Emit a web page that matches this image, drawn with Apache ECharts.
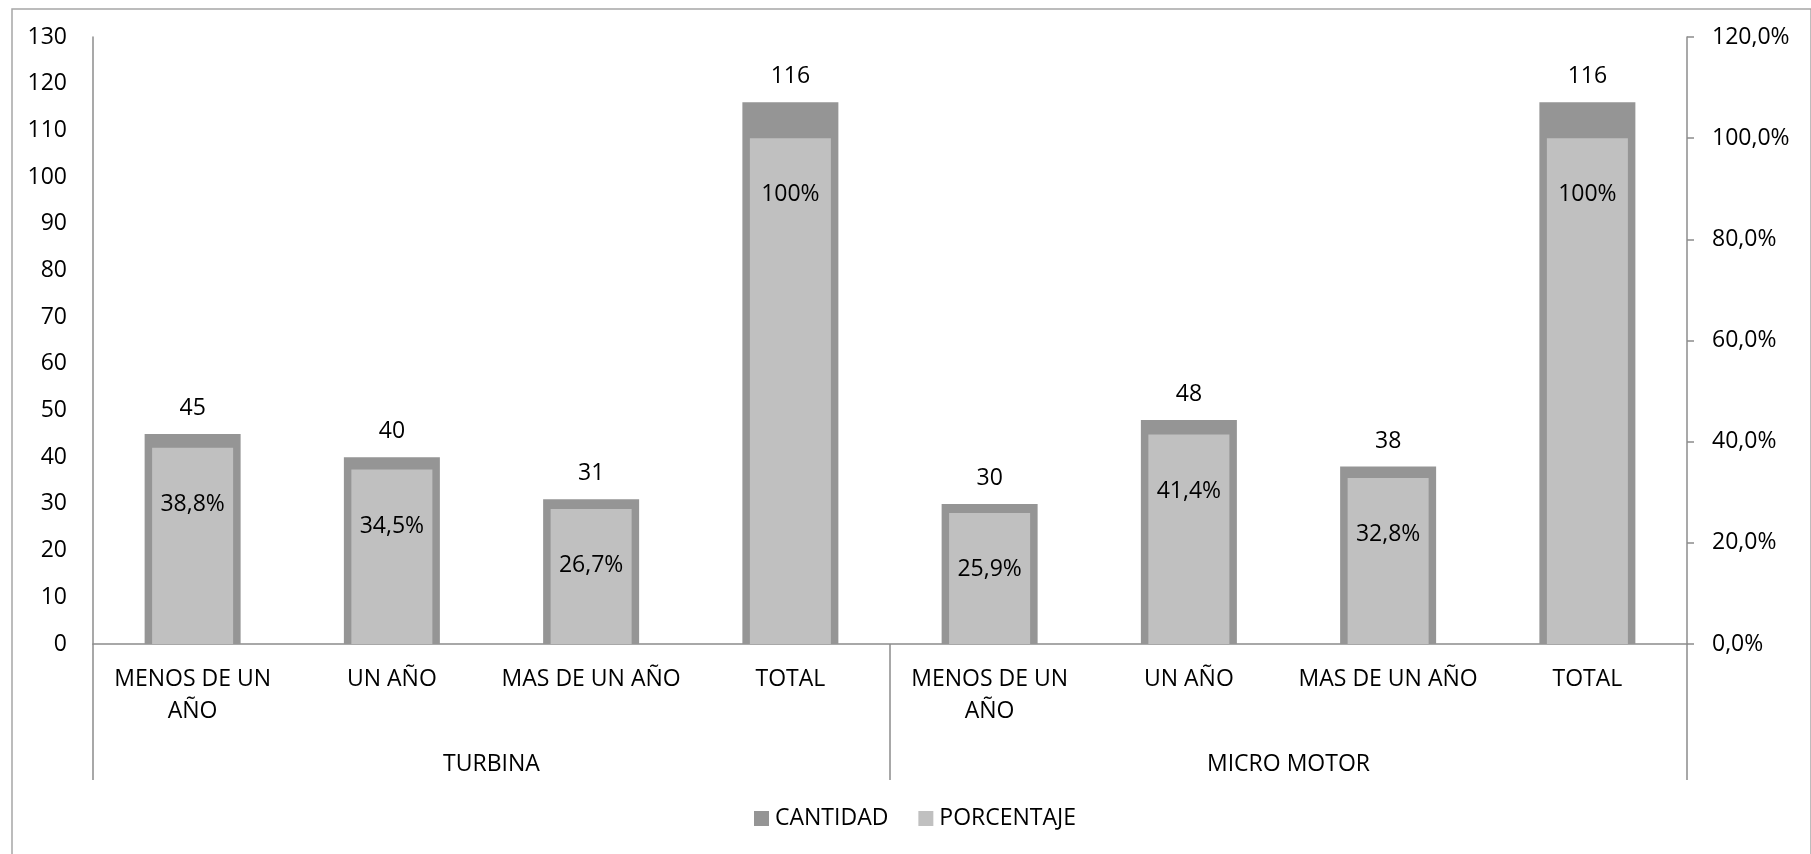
<!DOCTYPE html>
<html>
<head>
<meta charset="utf-8">
<script src="https://cdn.jsdelivr.net/npm/echarts@6/dist/echarts.min.js"></script>
<style>
html,body{margin:0;padding:0;background:#fff;}
#main{width:1811px;height:854px;}
</style>
</head>
<body>
<div id="main"></div>
<script>
const categories = ['MENOS DE UN\nAÑO', 'UN AÑO', 'MAS DE UN AÑO', 'TOTAL', 'MENOS DE UN\nAÑO', 'UN AÑO', 'MAS DE UN AÑO', 'TOTAL'];
const groups = ['TURBINA', 'MICRO MOTOR'];
const cantidad = [45, 40, 31, 116, 30, 48, 38, 116];
const porcentaje = [38.8, 34.5, 26.7, 100, 25.9, 41.4, 32.8, 100];
const seriesNames = ['CANTIDAD', 'PORCENTAJE'];

const FONT = 'Open Sans';
const FS = 23;
const AXIS = '#8c8c8c';

const chart = echarts.init(document.getElementById('main'), null, {renderer: 'canvas'});
chart.setOption({
  backgroundColor: '#fff',
  animation: false,
  textStyle: {fontFamily: FONT, color: '#000'},
  graphic: [{
    type: 'rect', left: 9.5, top: 6.5, silent: true,
    shape: {width: 1799, height: 860},
    style: {fill: 'none', stroke: '#a6a6a6', lineWidth: 1.5}
  }],
  grid: {left: 93, right: 124, top: 37, bottom: 210, containLabel: false},
  legend: {
    left: 749, top: 802,
    itemWidth: 15, itemHeight: 15, itemGap: 30,
    icon: 'rect',
    textStyle: {fontFamily: FONT, fontSize: FS, color: '#000', padding: [0, 0, 0, 1]},
    data: seriesNames
  },
  xAxis: [
    {
      type: 'category', data: categories, position: 'bottom',
      axisLine: {show: true, lineStyle: {color: AXIS, width: 1.5}},
      axisTick: {show: false},
      axisLabel: {interval: 0, fontFamily: FONT, fontSize: FS, color: '#000', lineHeight: 32, margin: 19}
    },
    {
      type: 'category', data: categories, position: 'bottom', show: false
    },
    {
      type: 'category', data: groups, position: 'bottom',
      axisLine: {show: false},
      axisTick: {show: true, length: 136, interval: 0, lineStyle: {color: AXIS, width: 1.5}},
      axisLabel: {interval: 0, fontFamily: FONT, fontSize: FS, color: '#000', lineHeight: 32, margin: 104}
    }
  ],
  yAxis: [
    {
      type: 'value', min: 0, max: 130, interval: 10, position: 'left',
      splitLine: {show: false},
      axisLine: {show: true, lineStyle: {color: AXIS, width: 1.5}},
      axisTick: {show: false},
      axisLabel: {fontFamily: FONT, fontSize: FS, color: '#000', margin: 26}
    },
    {
      type: 'value', min: 0, max: 120, interval: 20, position: 'right',
      splitLine: {show: false},
      axisLine: {show: true, lineStyle: {color: AXIS, width: 1.5}},
      axisTick: {show: true, length: 7, lineStyle: {color: AXIS, width: 1.5}},
      axisLabel: {fontFamily: FONT, fontSize: FS, color: '#000', margin: 25,
        formatter: v => v.toFixed(1).replace('.', ',') + '%'}
    }
  ],
  series: [
    {
      name: seriesNames[0], type: 'bar', xAxisIndex: 0, yAxisIndex: 0,
      data: cantidad, barWidth: 96,
      itemStyle: {color: '#959595'},
      label: {show: true, position: 'top', distance: 14, fontFamily: FONT, fontSize: FS, color: '#000'}
    },
    {
      name: seriesNames[1], type: 'bar', xAxisIndex: 1, yAxisIndex: 1,
      data: porcentaje, barWidth: 81,
      itemStyle: {color: '#c0c0c0'},
      label: {show: true, position: 'insideTop', distance: 45, fontFamily: FONT, fontSize: FS, color: '#000',
        formatter: p => (Number.isInteger(p.value) ? String(p.value) : p.value.toFixed(1).replace('.', ',')) + '%'}
    }
  ]
});
</script>
</body>
</html>
